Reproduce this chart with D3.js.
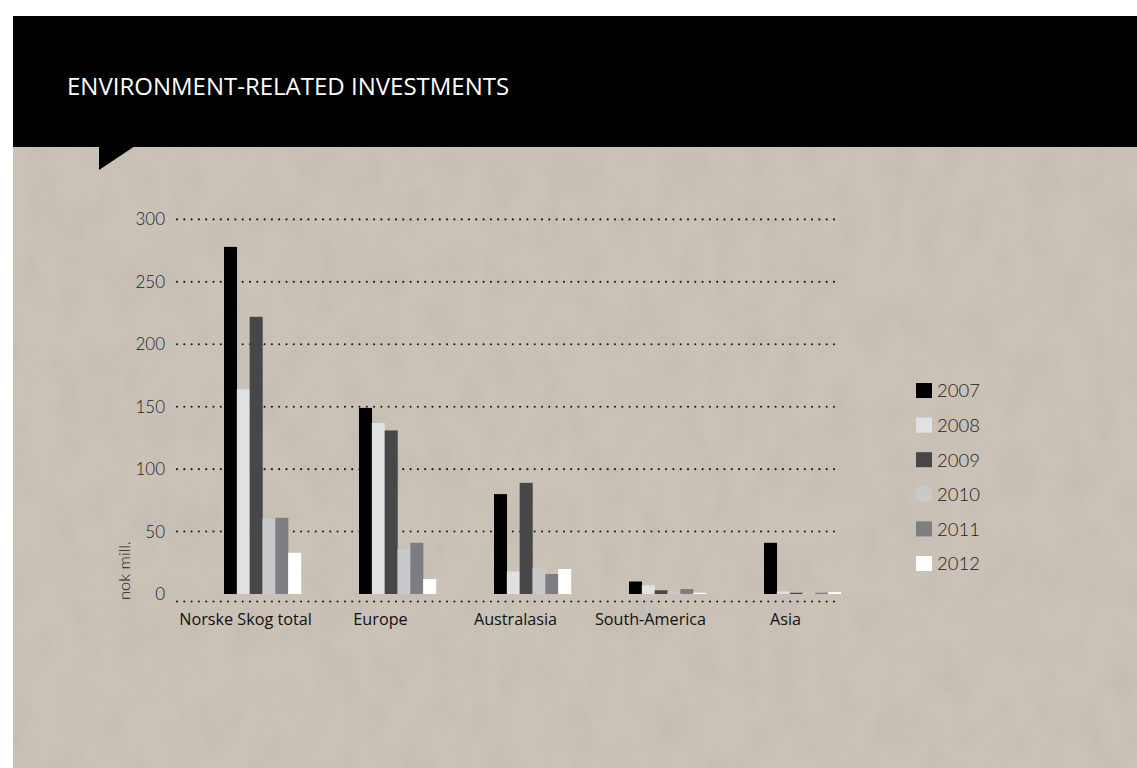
<!DOCTYPE html>
<html>
<head>
<meta charset="utf-8">
<script src="https://cdn.jsdelivr.net/npm/d3@7"></script>
<style>
  html, body { margin: 0; padding: 0; background: #fff; }
  svg { display: block; }
</style>
</head>
<body>
<svg id="chart" width="1137" height="768"></svg>
<script>
// Environment-related investments by region, NOK million
const categories = ["Norske Skog total", "Europe", "Australasia", "South-America", "Asia"];
const years = ["2007", "2008", "2009", "2010", "2011", "2012"];
const values2007 = [278, 149, 80, 10, 41];
const values2008 = [164, 137, 18, 7, 2];
const values2009 = [222, 131, 89, 3, 1];
const values2010 = [60, 36, 21, 2, 1];
const values2011 = [61, 41, 16, 4, 1];
const values2012 = [33, 12, 20, 1, 1.5];
const yTicks = [0, 50, 100, 150, 200, 250, 300];
const yearColors = ["#000000", "#e0e1e3", "#474749", "#c8c9cb", "#7d7e82", "#ffffff"];

const seriesValues = [values2007, values2008, values2009, values2010, values2011, values2012];

const svg = d3.select("#chart");
const W = 1137, H = 768;

// --- paper background with a subtle grain
const defs = svg.append("defs");
const grain = defs.append("filter").attr("id", "grain")
  .attr("x", 0).attr("y", 0).attr("width", "100%").attr("height", "100%");
grain.append("feTurbulence").attr("type", "fractalNoise")
  .attr("baseFrequency", "0.035 0.02").attr("numOctaves", 4).attr("seed", 7).attr("result", "noise");
grain.append("feColorMatrix").attr("in", "noise").attr("type", "matrix")
  .attr("values", "0 0 0 0 0.45  0 0 0 0 0.42  0 0 0 0 0.38  0 0 0 -1.1 0.62");

svg.append("rect").attr("x", 13).attr("y", 146).attr("width", W - 13).attr("height", H - 146)
  .attr("fill", "#cac2b7");
svg.append("rect").attr("x", 13).attr("y", 146).attr("width", W - 13).attr("height", H - 146)
  .attr("fill", "#fff").attr("filter", "url(#grain)").attr("opacity", 0.5);

// --- header band with speech-bubble notch
svg.append("rect").attr("x", 13).attr("y", 16).attr("width", W - 13).attr("height", 131).attr("fill", "#000");
svg.append("path").attr("d", "M99,146 L99,170 L135,146 Z").attr("fill", "#000");
svg.append("text")
  .attr("x", 67).attr("y", 95)
  .attr("fill", "#fff")
  .style("font-family", "'Open Sans', sans-serif")
  .style("font-size", "24px")
  .text("ENVIRONMENT-RELATED INVESTMENTS");

// --- scales
const y = d3.scaleLinear().domain([0, 300]).range([594, 219.4]);
const x0 = d3.scaleBand().domain(categories).range([224, 841]).paddingInner(0.4296).paddingOuter(0);
const x1 = d3.scaleBand().domain(years).range([0, x0.bandwidth()]).padding(0);
const color = d3.scaleOrdinal().domain(years).range(yearColors);

const gridLeft = 177, gridRight = 836;

// --- dotted gridlines
const grid = svg.append("g");
grid.selectAll("line.grid")
  .data(yTicks.filter(d => d > 0))
  .join("line")
  .attr("x1", gridLeft).attr("x2", gridRight)
  .attr("y1", d => y(d)).attr("y2", d => y(d))
  .attr("stroke", "#1a1a1a").attr("stroke-width", 2.1)
  .attr("stroke-linecap", "round").attr("stroke-dasharray", "0,7.3");

// baseline dotted rule sits a little below zero
grid.append("line")
  .attr("x1", gridLeft).attr("x2", gridRight)
  .attr("y1", y(0) + 7.5).attr("y2", y(0) + 7.5)
  .attr("stroke", "#1a1a1a").attr("stroke-width", 2.1)
  .attr("stroke-linecap", "round").attr("stroke-dasharray", "0,7.3");

// --- y axis labels
const yAxis = d3.axisLeft(y).tickValues(yTicks).tickSize(0).tickPadding(0);
const yAxisG = svg.append("g").attr("transform", "translate(165,0)").call(yAxis);
yAxisG.select(".domain").remove();
yAxisG.selectAll("text")
  .attr("fill", "#222")
  .style("font-family", "Lato, sans-serif")
  .style("font-weight", 300)
  .style("font-size", "17px");

svg.append("text")
  .attr("transform", "translate(130,600) rotate(-90)")
  .attr("text-anchor", "start")
  .attr("fill", "#222")
  .style("font-family", "Lato, sans-serif")
  .style("font-weight", 300)
  .style("font-size", "16.5px")
  .text("nok mill.");

// --- bars
const groups = svg.append("g").selectAll("g")
  .data(categories)
  .join("g")
  .attr("transform", d => `translate(${x0(d)},0)`);

groups.selectAll("rect")
  .data((c, ci) => years.map((yr, yi) => ({ year: yr, value: seriesValues[yi][ci] })))
  .join("rect")
  .attr("x", d => x1(d.year))
  .attr("width", x1.bandwidth() + 0.2)
  .attr("y", d => y(d.value))
  .attr("height", d => y(0) - y(d.value))
  .attr("fill", d => color(d.year));

// --- category labels
svg.append("g").selectAll("text")
  .data(categories)
  .join("text")
  .attr("x", d => x0(d) + x0.bandwidth() / 2 - 17)
  .attr("y", 625)
  .attr("text-anchor", "middle")
  .attr("fill", "#111")
  .style("font-family", "'Open Sans', sans-serif")
  .style("font-size", "16.2px")
  .text(d => d);

// --- legend
const legend = svg.append("g").attr("transform", "translate(916,383)");
const ly = d3.scalePoint().domain(years).range([0, 173]);
const items = legend.selectAll("g").data(years).join("g")
  .attr("transform", d => `translate(0,${ly(d)})`);
items.append("rect").attr("width", 16).attr("height", 15).attr("fill", d => color(d));
items.append("text")
  .attr("x", 21).attr("y", 8)
  .attr("dy", "0.35em")
  .attr("fill", "#222")
  .style("font-family", "Lato, sans-serif")
  .style("font-weight", 300)
  .style("font-size", "18.5px")
  .text(d => d);
</script>
</body>
</html>
